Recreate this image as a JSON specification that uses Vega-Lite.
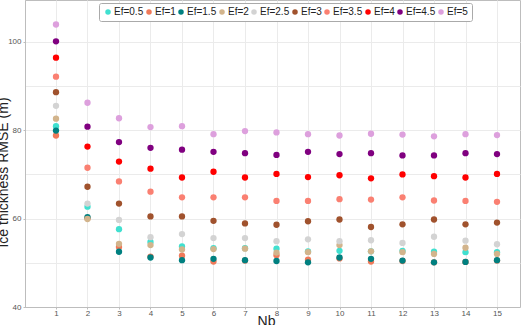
{
  "$schema": "https://vega.github.io/schema/vega-lite/v6.json",
  "width": 495,
  "height": 307,
  "autosize": {"type": "none"},
  "padding": {"left": 25, "top": 0, "right": 3, "bottom": 18},
  "background": "white",
  "config": {
    "font": "Liberation Sans",
    "view": {"stroke": "#bdbdbd", "strokeWidth": 1}
  },
  "data": {
    "values": [
      {"Nb": 1, "Ef": "Ef=0.5", "RMSE": 80.9}, {"Nb": 2, "Ef": "Ef=0.5", "RMSE": 62.7}, {"Nb": 3, "Ef": "Ef=0.5", "RMSE": 57.6},
      {"Nb": 4, "Ef": "Ef=0.5", "RMSE": 54.7}, {"Nb": 5, "Ef": "Ef=0.5", "RMSE": 53.7}, {"Nb": 6, "Ef": "Ef=0.5", "RMSE": 53.3},
      {"Nb": 7, "Ef": "Ef=0.5", "RMSE": 53.3}, {"Nb": 8, "Ef": "Ef=0.5", "RMSE": 53.2}, {"Nb": 9, "Ef": "Ef=0.5", "RMSE": 52.6},
      {"Nb": 10, "Ef": "Ef=0.5", "RMSE": 52.7}, {"Nb": 11, "Ef": "Ef=0.5", "RMSE": 52.6}, {"Nb": 12, "Ef": "Ef=0.5", "RMSE": 52.7},
      {"Nb": 13, "Ef": "Ef=0.5", "RMSE": 52.5}, {"Nb": 14, "Ef": "Ef=0.5", "RMSE": 52.4}, {"Nb": 15, "Ef": "Ef=0.5", "RMSE": 52.4},

      {"Nb": 1, "Ef": "Ef=1", "RMSE": 78.8}, {"Nb": 2, "Ef": "Ef=1", "RMSE": 60.1}, {"Nb": 3, "Ef": "Ef=1", "RMSE": 53.6},
      {"Nb": 4, "Ef": "Ef=1", "RMSE": 51.4}, {"Nb": 5, "Ef": "Ef=1", "RMSE": 51.6}, {"Nb": 6, "Ef": "Ef=1", "RMSE": 50.3},
      {"Nb": 7, "Ef": "Ef=1", "RMSE": 50.5}, {"Nb": 8, "Ef": "Ef=1", "RMSE": 51.7}, {"Nb": 9, "Ef": "Ef=1", "RMSE": 50.7},
      {"Nb": 10, "Ef": "Ef=1", "RMSE": 51.0}, {"Nb": 11, "Ef": "Ef=1", "RMSE": 50.3}, {"Nb": 12, "Ef": "Ef=1", "RMSE": 50.4},
      {"Nb": 13, "Ef": "Ef=1", "RMSE": 50.1}, {"Nb": 14, "Ef": "Ef=1", "RMSE": 50.2}, {"Nb": 15, "Ef": "Ef=1", "RMSE": 50.5},

      {"Nb": 1, "Ef": "Ef=1.5", "RMSE": 79.9}, {"Nb": 2, "Ef": "Ef=1.5", "RMSE": 60.3}, {"Nb": 3, "Ef": "Ef=1.5", "RMSE": 52.5},
      {"Nb": 4, "Ef": "Ef=1.5", "RMSE": 51.2}, {"Nb": 5, "Ef": "Ef=1.5", "RMSE": 50.6}, {"Nb": 6, "Ef": "Ef=1.5", "RMSE": 50.9},
      {"Nb": 7, "Ef": "Ef=1.5", "RMSE": 50.6}, {"Nb": 8, "Ef": "Ef=1.5", "RMSE": 50.4}, {"Nb": 9, "Ef": "Ef=1.5", "RMSE": 50.1},
      {"Nb": 10, "Ef": "Ef=1.5", "RMSE": 51.2}, {"Nb": 11, "Ef": "Ef=1.5", "RMSE": 50.9}, {"Nb": 12, "Ef": "Ef=1.5", "RMSE": 50.5},
      {"Nb": 13, "Ef": "Ef=1.5", "RMSE": 50.1}, {"Nb": 14, "Ef": "Ef=1.5", "RMSE": 50.2}, {"Nb": 15, "Ef": "Ef=1.5", "RMSE": 50.6},

      {"Nb": 1, "Ef": "Ef=2", "RMSE": 82.6}, {"Nb": 2, "Ef": "Ef=2", "RMSE": 59.9}, {"Nb": 3, "Ef": "Ef=2", "RMSE": 54.3},
      {"Nb": 4, "Ef": "Ef=2", "RMSE": 54.0}, {"Nb": 5, "Ef": "Ef=2", "RMSE": 53.0}, {"Nb": 6, "Ef": "Ef=2", "RMSE": 53.1},
      {"Nb": 7, "Ef": "Ef=2", "RMSE": 53.2}, {"Nb": 8, "Ef": "Ef=2", "RMSE": 52.3}, {"Nb": 9, "Ef": "Ef=2", "RMSE": 52.4},
      {"Nb": 10, "Ef": "Ef=2", "RMSE": 54.0}, {"Nb": 11, "Ef": "Ef=2", "RMSE": 52.6}, {"Nb": 12, "Ef": "Ef=2", "RMSE": 52.4},
      {"Nb": 13, "Ef": "Ef=2", "RMSE": 52.0}, {"Nb": 14, "Ef": "Ef=2", "RMSE": 53.4}, {"Nb": 15, "Ef": "Ef=2", "RMSE": 52.0},

      {"Nb": 1, "Ef": "Ef=2.5", "RMSE": 85.5}, {"Nb": 2, "Ef": "Ef=2.5", "RMSE": 63.4}, {"Nb": 3, "Ef": "Ef=2.5", "RMSE": 59.7},
      {"Nb": 4, "Ef": "Ef=2.5", "RMSE": 55.8}, {"Nb": 5, "Ef": "Ef=2.5", "RMSE": 56.5}, {"Nb": 6, "Ef": "Ef=2.5", "RMSE": 55.6},
      {"Nb": 7, "Ef": "Ef=2.5", "RMSE": 55.6}, {"Nb": 8, "Ef": "Ef=2.5", "RMSE": 54.9}, {"Nb": 9, "Ef": "Ef=2.5", "RMSE": 55.3},
      {"Nb": 10, "Ef": "Ef=2.5", "RMSE": 54.9}, {"Nb": 11, "Ef": "Ef=2.5", "RMSE": 55.1}, {"Nb": 12, "Ef": "Ef=2.5", "RMSE": 54.5},
      {"Nb": 13, "Ef": "Ef=2.5", "RMSE": 55.9}, {"Nb": 14, "Ef": "Ef=2.5", "RMSE": 55.0}, {"Nb": 15, "Ef": "Ef=2.5", "RMSE": 54.2},

      {"Nb": 1, "Ef": "Ef=3", "RMSE": 88.6}, {"Nb": 2, "Ef": "Ef=3", "RMSE": 67.2}, {"Nb": 3, "Ef": "Ef=3", "RMSE": 63.4},
      {"Nb": 4, "Ef": "Ef=3", "RMSE": 60.5}, {"Nb": 5, "Ef": "Ef=3", "RMSE": 60.5}, {"Nb": 6, "Ef": "Ef=3", "RMSE": 59.5},
      {"Nb": 7, "Ef": "Ef=3", "RMSE": 58.9}, {"Nb": 8, "Ef": "Ef=3", "RMSE": 58.6}, {"Nb": 9, "Ef": "Ef=3", "RMSE": 59.4},
      {"Nb": 10, "Ef": "Ef=3", "RMSE": 59.8}, {"Nb": 11, "Ef": "Ef=3", "RMSE": 58.1}, {"Nb": 12, "Ef": "Ef=3", "RMSE": 58.7},
      {"Nb": 13, "Ef": "Ef=3", "RMSE": 59.8}, {"Nb": 14, "Ef": "Ef=3", "RMSE": 58.7}, {"Nb": 15, "Ef": "Ef=3", "RMSE": 59.1},

      {"Nb": 1, "Ef": "Ef=3.5", "RMSE": 92.1}, {"Nb": 2, "Ef": "Ef=3.5", "RMSE": 71.5}, {"Nb": 3, "Ef": "Ef=3.5", "RMSE": 68.4},
      {"Nb": 4, "Ef": "Ef=3.5", "RMSE": 66.1}, {"Nb": 5, "Ef": "Ef=3.5", "RMSE": 64.8}, {"Nb": 6, "Ef": "Ef=3.5", "RMSE": 64.8},
      {"Nb": 7, "Ef": "Ef=3.5", "RMSE": 64.8}, {"Nb": 8, "Ef": "Ef=3.5", "RMSE": 64.0}, {"Nb": 9, "Ef": "Ef=3.5", "RMSE": 64.0},
      {"Nb": 10, "Ef": "Ef=3.5", "RMSE": 64.4}, {"Nb": 11, "Ef": "Ef=3.5", "RMSE": 64.3}, {"Nb": 12, "Ef": "Ef=3.5", "RMSE": 64.8},
      {"Nb": 13, "Ef": "Ef=3.5", "RMSE": 64.1}, {"Nb": 14, "Ef": "Ef=3.5", "RMSE": 64.0}, {"Nb": 15, "Ef": "Ef=3.5", "RMSE": 63.8},

      {"Nb": 1, "Ef": "Ef=4", "RMSE": 96.4}, {"Nb": 2, "Ef": "Ef=4", "RMSE": 76.3}, {"Nb": 3, "Ef": "Ef=4", "RMSE": 72.9},
      {"Nb": 4, "Ef": "Ef=4", "RMSE": 71.3}, {"Nb": 5, "Ef": "Ef=4", "RMSE": 69.3}, {"Nb": 6, "Ef": "Ef=4", "RMSE": 70.6},
      {"Nb": 7, "Ef": "Ef=4", "RMSE": 69.3}, {"Nb": 8, "Ef": "Ef=4", "RMSE": 70.1}, {"Nb": 9, "Ef": "Ef=4", "RMSE": 69.4},
      {"Nb": 10, "Ef": "Ef=4", "RMSE": 69.8}, {"Nb": 11, "Ef": "Ef=4", "RMSE": 69.1}, {"Nb": 12, "Ef": "Ef=4", "RMSE": 70.0},
      {"Nb": 13, "Ef": "Ef=4", "RMSE": 69.6}, {"Nb": 14, "Ef": "Ef=4", "RMSE": 69.3}, {"Nb": 15, "Ef": "Ef=4", "RMSE": 70.1},

      {"Nb": 1, "Ef": "Ef=4.5", "RMSE": 100.1}, {"Nb": 2, "Ef": "Ef=4.5", "RMSE": 80.8}, {"Nb": 3, "Ef": "Ef=4.5", "RMSE": 77.3},
      {"Nb": 4, "Ef": "Ef=4.5", "RMSE": 76.0}, {"Nb": 5, "Ef": "Ef=4.5", "RMSE": 75.6}, {"Nb": 6, "Ef": "Ef=4.5", "RMSE": 75.1},
      {"Nb": 7, "Ef": "Ef=4.5", "RMSE": 74.8}, {"Nb": 8, "Ef": "Ef=4.5", "RMSE": 74.4}, {"Nb": 9, "Ef": "Ef=4.5", "RMSE": 75.1},
      {"Nb": 10, "Ef": "Ef=4.5", "RMSE": 74.6}, {"Nb": 11, "Ef": "Ef=4.5", "RMSE": 74.8}, {"Nb": 12, "Ef": "Ef=4.5", "RMSE": 74.3},
      {"Nb": 13, "Ef": "Ef=4.5", "RMSE": 74.3}, {"Nb": 14, "Ef": "Ef=4.5", "RMSE": 74.8}, {"Nb": 15, "Ef": "Ef=4.5", "RMSE": 74.6},

      {"Nb": 1, "Ef": "Ef=5", "RMSE": 103.9}, {"Nb": 2, "Ef": "Ef=5", "RMSE": 86.2}, {"Nb": 3, "Ef": "Ef=5", "RMSE": 82.7},
      {"Nb": 4, "Ef": "Ef=5", "RMSE": 80.7}, {"Nb": 5, "Ef": "Ef=5", "RMSE": 80.9}, {"Nb": 6, "Ef": "Ef=5", "RMSE": 79.1},
      {"Nb": 7, "Ef": "Ef=5", "RMSE": 79.8}, {"Nb": 8, "Ef": "Ef=5", "RMSE": 79.5}, {"Nb": 9, "Ef": "Ef=5", "RMSE": 79.1},
      {"Nb": 10, "Ef": "Ef=5", "RMSE": 78.8}, {"Nb": 11, "Ef": "Ef=5", "RMSE": 79.2}, {"Nb": 12, "Ef": "Ef=5", "RMSE": 79.0},
      {"Nb": 13, "Ef": "Ef=5", "RMSE": 78.6}, {"Nb": 14, "Ef": "Ef=5", "RMSE": 79.1}, {"Nb": 15, "Ef": "Ef=5", "RMSE": 78.9}
    ]
  },
  "mark": {"type": "circle", "size": 40, "opacity": 1},
  "encoding": {
    "x": {
      "field": "Nb",
      "type": "quantitative",
      "scale": {"domain": [0.016, 15.73], "nice": false, "zero": false},
      "axis": {
        "title": "Nb",
        "values": [1, 2, 3, 4, 5, 6, 7, 8, 9, 10, 11, 12, 13, 14, 15],
        "format": "d",
        "grid": true,
        "gridColor": "#ebebeb",
        "domainColor": "#bdbdbd",
        "tickColor": "#bdbdbd",
        "tickSize": 2,
        "labelPadding": 0,
        "labelFontSize": 8,
        "labelColor": "#555555",
        "titleFontSize": 14,
        "titleFontWeight": "normal",
        "titleColor": "#222222",
        "titleX": 241,
        "titleY": 7,
        "titleBaseline": "top"
      }
    },
    "y": {
      "field": "RMSE",
      "type": "quantitative",
      "scale": {"domain": [40, 109.45], "nice": false, "zero": false},
      "axis": {
        "title": "Ice thickness RMSE (m)",
        "values": [40, 50, 60, 70, 80, 90, 100],
        "labelExpr": "datum.value % 20 == 0 ? datum.label : ''",
        "tickOpacity": {"condition": {"test": "datum.value % 20 == 0", "value": 1}, "value": 0},
        "grid": true,
        "gridColor": "#ebebeb",
        "domainColor": "#bdbdbd",
        "tickColor": "#bdbdbd",
        "tickSize": 2,
        "labelPadding": 2,
        "labelFontSize": 8,
        "labelColor": "#555555",
        "titleFontSize": 14,
        "titleFontWeight": "normal",
        "titleColor": "#222222",
        "titleX": -17.5,
        "titleY": 172,
        "titleBaseline": "alphabetic"
      }
    },
    "color": {
      "field": "Ef",
      "type": "nominal",
      "scale": {
        "domain": ["Ef=0.5", "Ef=1", "Ef=1.5", "Ef=2", "Ef=2.5", "Ef=3", "Ef=3.5", "Ef=4", "Ef=4.5", "Ef=5"],
        "range": ["#40E0D0", "#F07A5A", "#008080", "#D2B48C", "#D3D3D3", "#A0522D", "#FA8072", "#FF0000", "#800080", "#DDA0DD"]
      },
      "legend": {
        "title": null,
        "orient": "none",
        "legendX": 74,
        "legendY": 3,
        "direction": "horizontal",
        "columns": 10,
        "symbolType": "circle",
        "symbolSize": 30,
        "symbolOpacity": 1,
        "labelFontSize": 10,
        "labelColor": "#222222",
        "labelOffset": 1,
        "columnPadding": 0,
        "padding": 4,
        "strokeColor": "#aaaaaa",
        "fillColor": "white",
        "cornerRadius": 2
      }
    }
  }
}
